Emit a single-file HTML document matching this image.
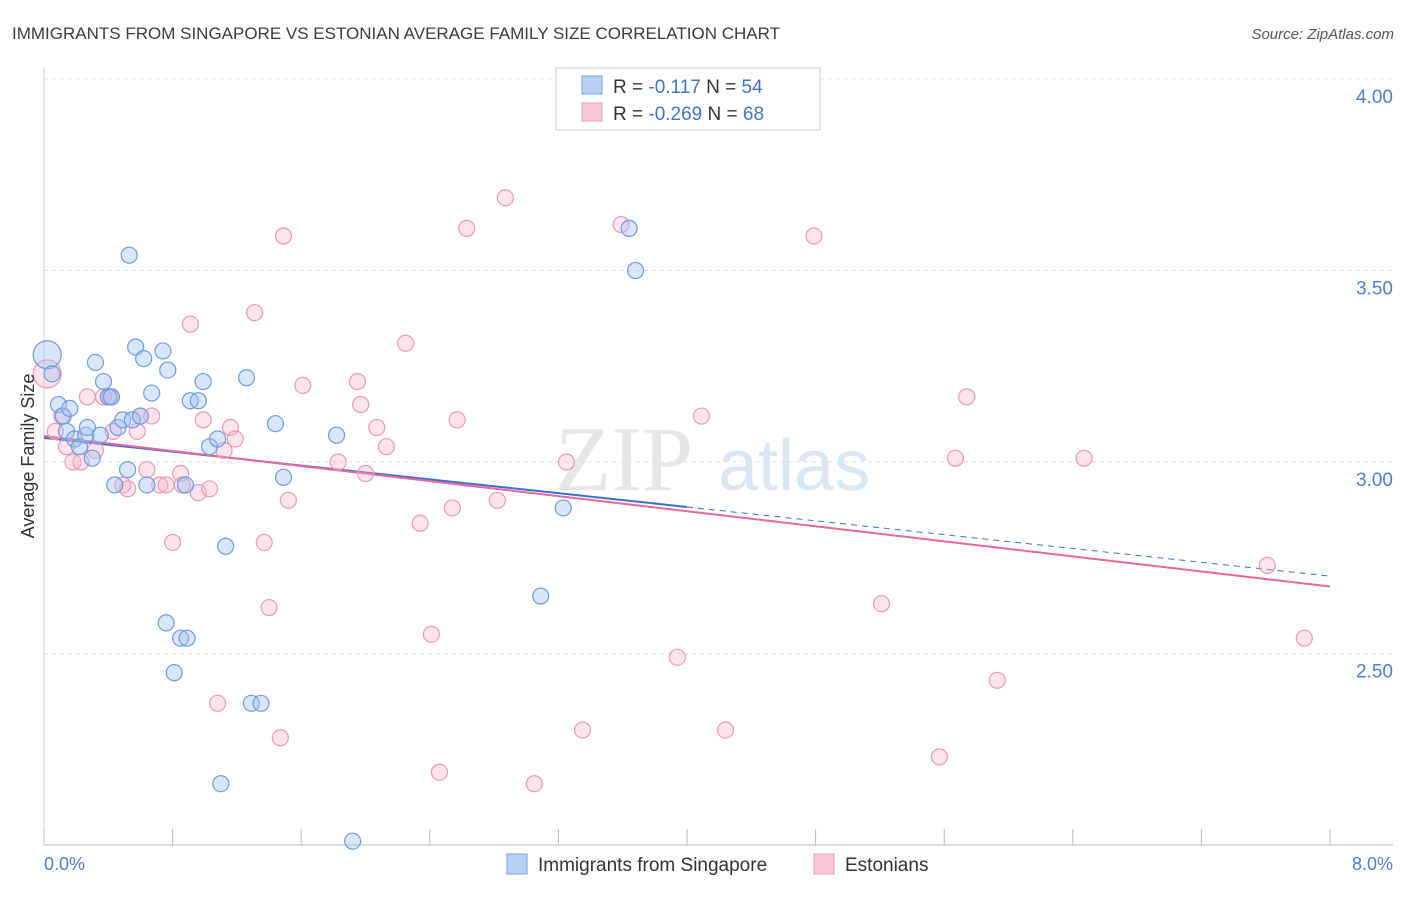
<!DOCTYPE html>
<html><head><meta charset="utf-8"><style>
body{margin:0;background:#fff;font-family:"Liberation Sans",sans-serif;}
</style></head><body>
<svg id="chart" width="1406" height="892" xmlns="http://www.w3.org/2000/svg" style="font-family:'Liberation Sans',sans-serif">
<text x="12" y="39" font-size="17" fill="#3c3c3c">IMMIGRANTS FROM SINGAPORE VS ESTONIAN AVERAGE FAMILY SIZE CORRELATION CHART</text>
<text x="1394" y="39" font-size="15" fill="#555" font-style="italic" text-anchor="end">Source: ZipAtlas.com</text>
<text x="555" y="490" font-size="92" fill="#e6e6e6" font-family="Liberation Serif,serif">ZIP</text>
<text x="718" y="490" font-size="72" fill="#dbe6f5">atlas</text>
<g id="grid"></g><g id="axes"></g><g id="lines"></g><g id="pts"></g>
<text transform="translate(34,456) rotate(-90)" font-size="18" fill="#333" text-anchor="middle">Average Family Size</text>
<text x="44" y="870" font-size="18" fill="#4a7fd4">0.0%</text>
<text x="1393" y="870" font-size="18" fill="#4a7fd4" text-anchor="end">8.0%</text>
<g>
<rect x="556" y="68" width="264" height="62" fill="#fff" stroke="#ccc"/>
<rect x="582" y="76" width="20" height="18" fill="#b9d0f5" stroke="#7aa3e5"/>
<rect x="582" y="103" width="20" height="18" fill="#f9c8d8" stroke="#eb9ab5"/>
<text x="613" y="93" font-size="19" fill="#333">R =  <tspan fill="#3f73d0">-0.117</tspan>    N = <tspan fill="#3f73d0">54</tspan></text>
<text x="613" y="120" font-size="19" fill="#333">R = <tspan fill="#3f73d0">-0.269</tspan>    N = <tspan fill="#3f73d0">68</tspan></text>
</g>
<g>
<rect x="507" y="854" width="20" height="20" fill="#b9d0f5" stroke="#7aa3e5"/>
<text x="538" y="871" font-size="19" fill="#333">Immigrants from Singapore</text>
<rect x="814" y="854" width="20" height="20" fill="#f9c8d8" stroke="#eb9ab5"/>
<text x="845" y="871" font-size="19" fill="#333">Estonians</text>
</g>
</svg>
<script>
const yTicks=[2.5,3.0,3.5,4.0];
const yTickLabels=["2.50","3.00","3.50","4.00"];
const blueX=[.02,.05,.09,.12,.16,.14,.19,.22,.26,.27,.30,.32,.35,.37,.40,.42,.44,.46,.49,.52,.53,.55,.57,.60,.62,.64,.67,.74,.76,.77,.81,.85,.88,.89,.91,.96,.99,1.03,1.08,1.10,1.13,1.26,1.29,1.35,1.44,1.49,1.82,1.92,3.09,3.23,3.64,3.68];
const blueY=[3.28,3.23,3.15,3.12,3.14,3.08,3.06,3.04,3.07,3.09,3.01,3.26,3.07,3.21,3.17,3.17,2.94,3.09,3.11,2.98,3.54,3.11,3.30,3.12,3.27,2.94,3.18,3.29,2.58,3.24,2.45,2.54,2.94,2.54,3.16,3.16,3.21,3.04,3.06,2.16,2.78,3.22,2.37,2.37,3.10,2.96,3.07,2.01,2.65,2.88,3.61,3.50];
const pinkX=[.02,.07,.11,.14,.18,.23,.32,.27,.37,.41,.43,.49,.52,.58,.60,.64,.67,.72,.76,.80,.85,.86,.91,.96,.99,1.03,1.08,1.12,1.16,1.19,1.31,1.37,1.40,1.47,1.49,1.52,1.61,1.83,1.95,1.97,2.00,2.07,2.13,2.25,2.34,2.41,2.46,2.54,2.57,2.63,2.82,2.87,3.05,3.25,3.35,3.59,3.94,4.09,4.24,4.79,5.21,5.57,5.67,5.74,5.93,6.47,7.61,7.84];
const pinkY=[3.23,3.08,3.12,3.04,3.00,3.00,3.03,3.17,3.17,3.17,3.08,2.94,2.93,3.08,3.12,2.98,3.12,2.94,2.94,2.79,2.97,2.94,3.36,2.92,3.11,2.93,2.37,3.03,3.09,3.06,3.39,2.79,2.62,2.28,3.59,2.90,3.20,3.00,3.21,3.15,2.97,3.09,3.04,3.31,2.84,2.55,2.19,2.88,3.11,3.61,2.90,3.69,2.16,3.00,2.30,3.62,2.49,3.12,2.30,3.59,2.63,2.23,3.01,3.17,2.43,3.01,2.73,2.54];
const blueTrend=[3.063,2.702], pinkTrend=[3.068,2.675], blueSolidEnd=4.0;
const X=v=>44+v/8*1286, Y=v=>79+(4-v)*383;
const NS="http://www.w3.org/2000/svg";
function mk(parent,tag,attrs){const e=document.createElementNS(NS,tag);for(const k in attrs)e.setAttribute(k,attrs[k]);document.getElementById(parent).appendChild(e);return e;}
yTicks.forEach((t,i)=>{
 const g=mk('grid','line',{x1:44,x2:1393,y1:Y(t),y2:Y(t),stroke:'#e0e0e0','stroke-dasharray':'4,4'});
 
 
 const l=mk('axes','text',{x:1393,y:Y(t)+24,'font-size':19,fill:'#4a7fd4','text-anchor':'end'});
 l.textContent=yTickLabels[i];
 
 
});
const ax=mk('axes','line',{x1:44,x2:1393,y1:845,y2:845,stroke:'#bbb'});


const ay=mk('axes','line',{x1:44,x2:44,y1:68,y2:845,stroke:'#ccc'});


for(let i=0;i<=10;i++){const t=mk('axes','line',{x1:X(i*0.8),x2:X(i*0.8),y1:829,y2:845,stroke:'#bbb'});
 
 }
function pts(xs,ys,fill,stroke,name){xs.forEach((x,i)=>{
 const r=(x<0.03)?14:8;
 const c=mk('pts','circle',{cx:X(x),cy:Y(ys[i]),r:r,fill:fill,stroke:stroke,'stroke-width':1.2});
 
 });}
pts(pinkX,pinkY,'rgba(246,175,200,0.35)','#eb9ab5','estonians-point');
pts(blueX,blueY,'rgba(160,192,242,0.4)','#6f9be0','singapore-point');
const bm=blueTrend[0]+(blueTrend[1]-blueTrend[0])*blueSolidEnd/8;
const b1=mk('lines','line',{x1:X(0),y1:Y(blueTrend[0]),x2:X(blueSolidEnd),y2:Y(bm),stroke:'#3a6fd0','stroke-width':2});


const b2=mk('lines','line',{x1:X(blueSolidEnd),y1:Y(bm),x2:X(8),y2:Y(blueTrend[1]),stroke:'#3a6fd0','stroke-width':1,'stroke-dasharray':'6,5'});


const p1=mk('lines','line',{x1:X(0),y1:Y(pinkTrend[0]),x2:X(8),y2:Y(pinkTrend[1]),stroke:'#e8679a','stroke-width':2});


</script>
</body></html>
